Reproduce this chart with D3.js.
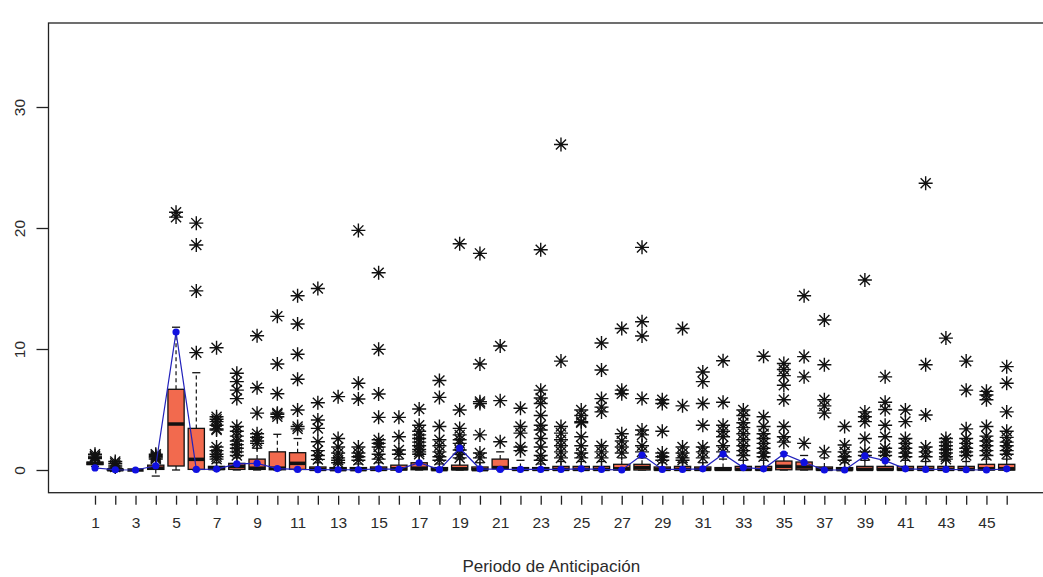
<!DOCTYPE html>
<html>
<head>
<meta charset="utf-8">
<script src="https://cdnjs.cloudflare.com/ajax/libs/d3/7.8.5/d3.min.js"></script>
<style>
  html, body { margin: 0; padding: 0; background: #fff; }
  svg { display: block; }
  text { font-family: "Liberation Sans", Arial, sans-serif; fill: #2a2a2a; }
</style>
</head>
<body>
<svg id="chart" width="1043" height="577"></svg>
<script>
// Anticipation periods 1..46
const periods = d3.range(1, 47);

// Box statistics per period
const whiskLo = [0.3,-0.1,0,-0.5,0,0,0,0,0,0, 0,0,0,0,0,0,0,0,0,0, 0,0,0,0,0,0,0,0,0,0, 0,0,0,0,0,0,0,0,0,0, 0,0,0,0,0,0];
const q1 =      [0.45,0,0,0.05,0.33,0.05,0.05,0.05,0.05,0.02, 0.05,0,0,0,0,0,0.02,0,0.02,0, 0.14,0,0,0,0,0,0,0,0,0, 0,0,0,0,0.02,0.02,0,0,0,0, 0,0,0,0,0,0];
const med =     [0.55,0.02,0,0.15,3.8,0.88,0.12,0.3,0.15,0.15, 0.55,0.05,0.03,0.03,0.05,0.1,0.15,0.03,0.1,0.03, 0.2,0.05,0.05,0.05,0.05,0.05,0.1,0.2,0.05,0.05, 0.05,0.05,0.05,0.05,0.3,0.25,0.05,0.03,0.05,0.05, 0.05,0.05,0.05,0.05,0.1,0.1];
const q3 =      [0.65,0.05,0,0.4,6.67,3.44,0.3,0.55,0.9,1.5, 1.43,0.25,0.2,0.2,0.25,0.4,0.6,0.2,0.4,0.25, 0.9,0.2,0.2,0.3,0.3,0.3,0.47,0.47,0.25,0.3, 0.25,0.2,0.3,0.3,0.74,0.66,0.25,0.2,0.3,0.3, 0.3,0.3,0.3,0.3,0.47,0.47];
const whiskHi = [0.8,0.1,0,0.8,11.8,8.04,0.6,1.0,1.8,2.95, 2.6,0.6,0.5,0.5,0.6,0.9,1.2,0.5,0.9,0.6, 1.5,0.8,0.5,0.7,0.7,0.7,1.0,1.0,0.6,0.6, 0.6,0.9,0.8,0.8,1.4,1.2,1.0,0.6,0.8,0.8, 0.8,0.7,0.8,0.7,0.9,0.9];

// Mean per period (blue line)
const means = [0.17,0.02,0,0.35,11.4,0.05,0.08,0.5,0.55,0.12, 0.05,0.03,0.02,0.02,0.1,0.05,0.6,0.03,1.8,0.1, 0.05,0.05,0.05,0.05,0.1,0.05,0,1.24,0.05,0.05, 0.1,1.32,0.2,0.1,1.32,0.63,0,0,1.16,0.77, 0.1,0.05,0.05,0.02,0,0.1];

// Outlying observations per period
const outliers = [
  [0.95,1.05,1.15,1.3],
  [0.25,0.4,0.55,0.7],
  [],
  [0.9,1.0,1.1,1.2,1.3],
  [20.9,21.3],
  [9.7,14.8,18.6,20.4],
  [10.1,4.4,4.2,4.0,3.7,3.4,3.3,1.9,1.6,1.3,1.1,0.9],
  [8.0,7.3,6.6,5.9,3.6,3.2,2.8,2.4,2.1,1.8,1.5,1.2],
  [11.1,6.8,4.7,3.0,2.7,2.4,2.2],
  [12.7,8.76,6.3,4.7,4.6,4.4],
  [14.4,12.07,9.56,7.5,4.96,3.6,3.4],
  [15.0,5.56,4.13,3.44,2.34,1.6,1.2,0.88],
  [6.06,2.6,1.9,1.4,1.0,0.8,0.6],
  [19.8,7.17,5.87,1.9,1.4,1.1,0.8],
  [16.3,9.97,6.28,4.35,2.5,2.2,1.9,1.3,0.9],
  [4.35,2.75,1.65,1.3],
  [5.04,3.7,3.2,2.9,2.6,2.3,2.0,1.7,1.5,1.3],
  [7.4,6.0,3.6,2.5,2.0,1.5,1.1,0.8],
  [18.7,4.96,3.44,2.9,2.5,2.2,1.65,1.3,1.0],
  [17.9,8.76,5.65,5.5,2.9,1.4,1.0],
  [10.25,5.73,2.34],
  [5.1,3.6,3.05,1.9,1.6],
  [18.2,6.6,5.95,5.5,4.5,3.7,3.3,2.6,1.9,1.2,0.8],
  [26.9,9.0,3.6,3.05,2.5,2.0,1.5,1.0],
  [4.96,4.5,4.0,3.9,2.75,2.0,1.4,1.0],
  [10.5,8.26,5.9,5.2,4.8,2.0,1.5,1.0],
  [11.7,6.6,6.3,3.0,2.4,1.9,1.4],
  [18.4,12.25,11.07,5.9,3.3,2.9,2.0,1.5],
  [5.8,5.5,3.2,1.4,1.1,0.8],
  [11.7,5.3,1.9,1.4,1.0,0.8],
  [8.1,7.3,5.5,3.7,1.9,1.5,1.0],
  [9.03,5.6,3.7,3.2,2.75,2.0,1.5],
  [4.96,4.5,3.9,3.5,3.0,2.5,2.0,1.6,1.2],
  [9.4,4.4,3.6,3.0,2.6,2.2,1.8,1.4,1.1],
  [8.8,8.3,7.8,7.0,5.8,3.6,2.75,2.3],
  [14.4,9.37,7.7,2.2],
  [12.4,8.7,5.8,5.3,4.7,1.5],
  [3.6,2.07,1.5,1.1,0.8],
  [15.7,4.8,4.4,4.0,2.6,1.5,1.2],
  [7.7,5.6,5.0,3.7,2.75,1.8,1.5,1.2],
  [4.96,4.0,2.6,2.2,1.8,1.4,1.1],
  [23.7,8.7,4.55,1.9,1.5,1.1],
  [10.9,2.6,2.3,2.0,1.7,1.4,1.1,0.9],
  [9.0,6.6,3.4,2.6,2.2,1.8,1.5,1.2],
  [6.5,6.2,5.8,3.6,2.8,2.4,2.0,1.6,1.2],
  [8.54,7.17,4.8,3.2,2.7,2.3,2.0,1.6,1.3]
];

const yTicks = [0, 10, 20, 30];
const xTickLabels = periods.filter(p => p % 2 === 1);
const xTitle = "Periodo de Anticipación";

// Layout
const plot = { left: 48.5, top: 23, right: 1054, bottom: 492.7 };
const svg = d3.select("#chart");

const x = d3.scaleLinear().domain([1, 46]).range([95, 1006.7]);
const y = d3.scaleLinear().domain([0, 30]).range([470, 107]);
const boxW = (x(2) - x(1)) * 0.8;
const capW = boxW * 0.5;

// Frame
svg.append("rect")
  .attr("x", plot.left).attr("y", plot.top)
  .attr("width", plot.right - plot.left).attr("height", plot.bottom - plot.top)
  .attr("fill", "none").attr("stroke", "#222").attr("stroke-width", 1.3);

// Y axis
const yAxis = d3.axisLeft(y).tickValues(yTicks).tickSize(12).tickFormat(d3.format("d"));
const gy = svg.append("g").attr("transform", `translate(${plot.left},0)`).call(yAxis);
gy.select(".domain").remove();
gy.selectAll(".tick line").attr("stroke", "#222").attr("stroke-width", 1.3);
gy.selectAll(".tick text").remove();
gy.selectAll(".tick").append("text")
  .attr("transform", "translate(-29,0) rotate(-90)")
  .attr("text-anchor", "middle")
  .attr("dy", "0.36em")
  .style("font-size", "15.5px")
  .text(d => d);

// X axis
const xAxis = d3.axisBottom(x).tickValues(periods).tickSize(9).tickFormat(d => xTickLabels.includes(d) ? d : "");
const gx = svg.append("g").attr("transform", `translate(0,${plot.bottom + 3})`).call(xAxis);
gx.select(".domain").remove();
gx.selectAll(".tick line").attr("stroke", "#222").attr("stroke-width", 1.3);
gx.selectAll(".tick text").attr("y", 21).style("font-size", "15.5px").style("fill", "#2a2a2a")
  .style("font-family", "Liberation Sans, Arial, sans-serif");

svg.append("text")
  .attr("x", (plot.left + plot.right) / 2).attr("y", 572)
  .attr("text-anchor", "middle")
  .style("font-size", "17px")
  .text(xTitle);

// Box plots
const stats = periods.map((p, i) => ({
  p, lo: whiskLo[i], q1: q1[i], med: med[i], q3: q3[i], hi: whiskHi[i], out: outliers[i]
}));

const g = svg.append("g");
const box = g.selectAll("g.box").data(stats).join("g").attr("class", "box");

// dashed whiskers
box.append("line")
  .attr("x1", d => x(d.p)).attr("x2", d => x(d.p))
  .attr("y1", d => y(d.q3)).attr("y2", d => y(d.hi))
  .attr("stroke", "#111").attr("stroke-width", 1.2).attr("stroke-dasharray", "4,3");
box.append("line")
  .attr("x1", d => x(d.p)).attr("x2", d => x(d.p))
  .attr("y1", d => y(d.q1)).attr("y2", d => y(d.lo))
  .attr("stroke", "#111").attr("stroke-width", 1.2).attr("stroke-dasharray", "4,3");
// staples
box.append("line")
  .attr("x1", d => x(d.p) - capW / 2).attr("x2", d => x(d.p) + capW / 2)
  .attr("y1", d => y(d.hi)).attr("y2", d => y(d.hi))
  .attr("stroke", "#111").attr("stroke-width", 1.3);
box.append("line")
  .attr("x1", d => x(d.p) - capW / 2).attr("x2", d => x(d.p) + capW / 2)
  .attr("y1", d => y(d.lo)).attr("y2", d => y(d.lo))
  .attr("stroke", "#111").attr("stroke-width", 1.3);
// box body
box.append("rect")
  .attr("x", d => x(d.p) - boxW / 2).attr("width", boxW)
  .attr("y", d => y(d.q3)).attr("height", d => Math.max(0, y(d.q1) - y(d.q3)))
  .attr("fill", "#F26A4E").attr("stroke", "#111").attr("stroke-width", 1.3);
// median
box.append("line")
  .attr("x1", d => x(d.p) - boxW / 2).attr("x2", d => x(d.p) + boxW / 2)
  .attr("y1", d => y(d.med)).attr("y2", d => y(d.med))
  .attr("stroke", "#111").attr("stroke-width", 3.5);

// Outliers drawn as asterisks
const star = (r) => {
  const dd = r * 0.72;
  return `M${-r},0H${r}M0,${-r}V${r}M${-dd},${-dd}L${dd},${dd}M${-dd},${dd}L${dd},${-dd}`;
};
const outPts = stats.flatMap(d => d.out.map(v => ({ p: d.p, v })));
g.selectAll("path.out").data(outPts).join("path")
  .attr("class", "out")
  .attr("transform", d => `translate(${x(d.p)},${y(d.v)})`)
  .attr("d", star(7))
  .attr("fill", "none").attr("stroke", "#111").attr("stroke-width", 1.4);

// Mean line and points
const meanPts = periods.map((p, i) => ({ p, v: means[i] }));
g.append("path")
  .datum(meanPts)
  .attr("d", d3.line().x(d => x(d.p)).y(d => y(d.v)))
  .attr("fill", "none").attr("stroke", "#2222bb").attr("stroke-width", 1.2);
g.selectAll("circle.mean").data(meanPts).join("circle")
  .attr("class", "mean")
  .attr("cx", d => x(d.p)).attr("cy", d => y(d.v)).attr("r", 3.6)
  .attr("fill", "#1010e0");
</script>
</body>
</html>
